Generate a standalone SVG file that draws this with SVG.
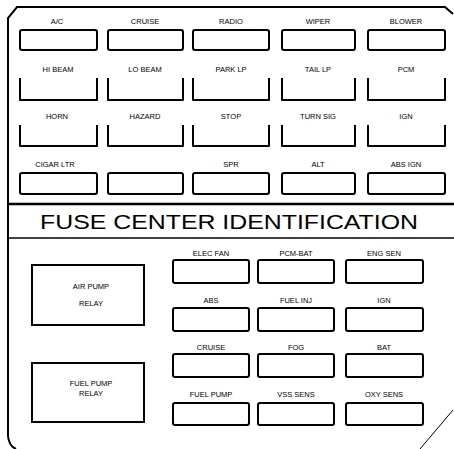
<svg xmlns="http://www.w3.org/2000/svg" width="454" height="449" viewBox="0 0 454 449">
<style>
.frame{fill:none;stroke:#000;stroke-width:2}
.sep{fill:none;stroke:#000}
.box{fill:#fff;stroke:#000;stroke-width:2}
.brk{fill:none;stroke:#000;stroke-width:2;stroke-linejoin:round}
.lbl{font-family:"Liberation Sans",Arial,sans-serif;font-size:7.5px;text-anchor:middle;fill:#000}
.title{font-family:"Liberation Sans",Arial,sans-serif;font-size:21px;fill:#000}
</style>
<rect width="454" height="449" fill="#fff"/>
<g id="frame">
<path class="frame" d="M8,436 V18 L17,7 H445 L453,14"/>
<path class="frame" d="M8,436 Q9,446 16,449"/>
<path class="sep" d="M420,449 L453,410" stroke-width="1"/>
<line class="sep" x1="8" y1="204" x2="454" y2="204" stroke-width="2.5"/>
<line class="sep" x1="8" y1="238" x2="454" y2="238" stroke-width="1.5"/>
<text class="title" x="40" y="229" textLength="378" lengthAdjust="spacingAndGlyphs">FUSE CENTER IDENTIFICATION</text>
</g>
<g id="top-row1">
<g id="f-ac"><text class="lbl" x="57" y="24">A/C</text><rect class="box" x="20" y="30" width="77" height="20" rx="2"/></g>
<g id="f-cruise"><text class="lbl" x="145" y="24">CRUISE</text><rect class="box" x="108" y="30" width="75" height="20" rx="2"/></g>
<g id="f-radio"><text class="lbl" x="231" y="24">RADIO</text><rect class="box" x="193" y="30" width="76" height="20" rx="2"/></g>
<g id="f-wiper"><text class="lbl" x="318" y="24">WIPER</text><rect class="box" x="282" y="30" width="73" height="20" rx="2"/></g>
<g id="f-blower"><text class="lbl" x="406" y="24">BLOWER</text><rect class="box" x="368" y="30" width="77" height="20" rx="2"/></g>
</g>
<g id="top-row2">
<g id="f-hibeam"><text class="lbl" x="58" y="72">HI BEAM</text><path class="brk" d="M20,78 V100 H97 V78"/></g>
<g id="f-lobeam"><text class="lbl" x="145" y="72">LO BEAM</text><path class="brk" d="M108,78 V100 H183 V78"/></g>
<g id="f-parklp"><text class="lbl" x="231" y="72">PARK LP</text><path class="brk" d="M193,78 V100 H269 V78"/></g>
<g id="f-taillp"><text class="lbl" x="318" y="72">TAIL LP</text><path class="brk" d="M282,78 V100 H355 V78"/></g>
<g id="f-pcm"><text class="lbl" x="406" y="72">PCM</text><path class="brk" d="M368,78 V100 H445 V78"/></g>
</g>
<g id="top-row3">
<g id="f-horn"><text class="lbl" x="57" y="119">HORN</text><path class="brk" d="M20,125 V146 H97 V125"/></g>
<g id="f-hazard"><text class="lbl" x="145" y="119">HAZARD</text><path class="brk" d="M108,125 V146 H183 V125"/></g>
<g id="f-stop"><text class="lbl" x="231" y="119">STOP</text><path class="brk" d="M193,125 V146 H269 V125"/></g>
<g id="f-turn"><text class="lbl" x="318" y="119">TURN SIG</text><path class="brk" d="M282,125 V146 H355 V125"/></g>
<g id="f-ign"><text class="lbl" x="406" y="119">IGN</text><path class="brk" d="M368,125 V146 H445 V125"/></g>
</g>
<g id="top-row4">
<g id="f-cigar"><text class="lbl" x="55" y="167">CIGAR LTR</text><rect class="box" x="20" y="173" width="77" height="21" rx="2"/></g>
<g id="f-blank"><rect class="box" x="108" y="173" width="75" height="21" rx="2"/></g>
<g id="f-spr"><text class="lbl" x="231" y="167">SPR</text><rect class="box" x="193" y="173" width="76" height="21" rx="2"/></g>
<g id="f-alt"><text class="lbl" x="318" y="167">ALT</text><rect class="box" x="282" y="173" width="73" height="21" rx="2"/></g>
<g id="f-absign"><text class="lbl" x="406" y="167">ABS IGN</text><rect class="box" x="368" y="173" width="77" height="21" rx="2"/></g>
</g>
<g id="relay-air">
<rect class="box" x="32" y="265" width="112" height="60"/>
<text class="lbl" x="91" y="289">AIR PUMP</text>
<text class="lbl" x="91" y="306">RELAY</text>
</g>
<g id="relay-fuel">
<rect class="box" x="32" y="363" width="112" height="59"/>
<text class="lbl" x="91" y="386">FUEL PUMP</text>
<text class="lbl" x="91" y="396">RELAY</text>
</g>
<g id="bottom-row1">
<g id="f-elecfan"><text class="lbl" x="211" y="256">ELEC FAN</text><rect class="box" x="173" y="260" width="76" height="23" rx="2"/></g>
<g id="f-pcmbat"><text class="lbl" x="296" y="256">PCM-BAT</text><rect class="box" x="258" y="260" width="76" height="23" rx="2"/></g>
<g id="f-engsen"><text class="lbl" x="384" y="256">ENG SEN</text><rect class="box" x="346" y="260" width="77" height="23" rx="2"/></g>
</g>
<g id="bottom-row2">
<g id="f-abs"><text class="lbl" x="211" y="303">ABS</text><rect class="box" x="173" y="308" width="76" height="23" rx="2"/></g>
<g id="f-fuelinj"><text class="lbl" x="296" y="303">FUEL INJ</text><rect class="box" x="258" y="308" width="76" height="23" rx="2"/></g>
<g id="f-ign2"><text class="lbl" x="384" y="303">IGN</text><rect class="box" x="346" y="308" width="77" height="23" rx="2"/></g>
</g>
<g id="bottom-row3">
<g id="f-cruise2"><text class="lbl" x="211" y="350">CRUISE</text><rect class="box" x="173" y="354" width="76" height="23" rx="2"/></g>
<g id="f-fog"><text class="lbl" x="296" y="350">FOG</text><rect class="box" x="258" y="354" width="76" height="23" rx="2"/></g>
<g id="f-bat"><text class="lbl" x="384" y="350">BAT</text><rect class="box" x="346" y="354" width="77" height="23" rx="2"/></g>
</g>
<g id="bottom-row4">
<g id="f-fuelpump"><text class="lbl" x="211" y="397">FUEL PUMP</text><rect class="box" x="173" y="403" width="76" height="22" rx="2"/></g>
<g id="f-vsssens"><text class="lbl" x="296" y="397">VSS SENS</text><rect class="box" x="258" y="403" width="76" height="22" rx="2"/></g>
<g id="f-oxysens"><text class="lbl" x="384" y="397">OXY SENS</text><rect class="box" x="346" y="403" width="77" height="22" rx="2"/></g>
</g>
<g id="connectors"></g>
</svg>
